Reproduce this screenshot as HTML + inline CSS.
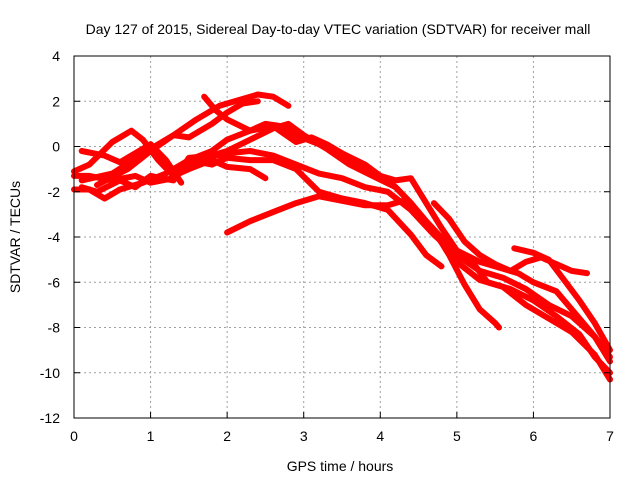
<!DOCTYPE html>
<html><head><meta charset="utf-8"><style>
body{margin:0;background:#fff}
svg text{font-family:"Liberation Sans",sans-serif;font-size:14px;fill:#000}
</style></head><body>
<svg id="chart" width="640" height="480" xmlns="http://www.w3.org/2000/svg">
<text x="338" y="34" text-anchor="middle">Day 127 of 2015, Sidereal Day-to-day VTEC variation (SDTVAR) for receiver mall</text>
<text x="340" y="471" text-anchor="middle">GPS time / hours</text>
<text transform="translate(20,237) rotate(-90)" text-anchor="middle">SDTVAR / TECUs</text>
<g id="grid"></g>
<g id="series"></g>
<rect x="74" y="56" width="536" height="362" fill="none" stroke="#000" stroke-width="1"/>
<g id="ticks"></g>
</svg>
<script>
const xTicks=[0,1,2,3,4,5,6,7];
const yTicks=[4,2,0,-2,-4,-6,-8,-10,-12];
const trackA=[[0.1,-1.5],[0.5,-1.2],[1.0,-0.1],[1.3,0.5],[1.6,1.2],[1.9,1.8],[2.1,2.0],[2.4,2.3],[2.6,2.2],[2.8,1.8]];
const trackB=[[0.3,-1.7],[0.7,-1.0],[1.0,-0.2],[1.3,0.5],[1.5,0.4],[1.8,1.0],[2.0,1.5],[2.2,1.9],[2.4,2.0]];
const trackC=[[1.7,2.2],[1.85,1.6],[2.0,1.2],[2.3,0.7],[2.6,0.9],[2.9,0.2],[3.1,0.4],[3.3,0.1],[3.6,-0.5],[3.9,-1.2],[4.2,-1.5],[4.4,-1.4],[4.6,-2.5],[4.8,-3.6],[5.0,-4.6],[5.3,-5.1],[5.5,-5.3],[5.8,-5.6],[6.0,-6.0],[6.3,-6.4],[6.6,-7.6],[6.8,-8.4],[7.0,-9.3]];
const trackD=[[0.0,-1.3],[0.2,-1.3],[0.5,-1.5],[0.8,-1.3],[1.0,-1.6],[1.3,-1.4],[1.6,-0.6],[2.0,-0.3],[2.3,-0.2],[2.6,-0.4],[2.9,-0.8],[3.2,-1.2],[3.5,-1.4],[3.8,-1.8],[4.1,-2.0],[4.4,-2.8],[4.7,-3.9],[5.0,-4.8],[5.3,-5.5],[5.6,-5.8],[5.9,-6.3],[6.2,-7.0],[6.5,-7.5],[6.8,-8.4],[7.0,-9.5]];
const trackE=[[0.1,-1.8],[0.3,-2.0],[0.6,-1.5],[0.8,-1.8],[1.0,-1.3],[1.3,-1.5],[1.5,-0.5],[1.8,-0.4],[2.0,-0.2],[2.3,0.3],[2.6,0.8],[2.8,1.0],[3.0,0.5],[3.3,-0.1],[3.6,-0.8],[3.9,-1.3],[4.2,-1.8],[4.4,-2.5],[4.6,-3.3],[4.9,-4.4],[5.2,-5.1],[5.4,-6.0],[5.7,-6.3],[6.0,-6.8],[6.3,-7.5],[6.6,-8.3],[6.8,-9.3],[7.0,-10.0]];
const trackF=[[0.0,-1.9],[0.2,-1.9],[0.4,-2.3],[0.6,-1.9],[0.9,-1.6],[1.2,-1.2],[1.5,-0.6],[1.8,-0.2],[2.0,0.3],[2.3,0.7],[2.5,1.0],[2.7,0.9],[2.9,0.5],[3.2,0.1],[3.5,-0.3],[3.8,-0.8],[4.0,-1.3],[4.2,-1.8],[4.4,-2.5],[4.7,-3.8],[5.0,-5.1],[5.3,-5.9],[5.6,-6.2],[5.9,-7.0],[6.2,-7.6],[6.5,-8.2],[6.8,-9.2],[7.0,-10.3]];
const trackG=[[0.0,-1.1],[0.2,-0.8],[0.5,0.2],[0.75,0.7],[0.9,0.3],[1.1,-0.6],[1.3,-1.3],[1.5,-1.0],[1.8,-0.6],[2.0,-0.9],[2.3,-1.0],[2.5,-1.4]];
const trackH=[[0.1,-0.2],[0.4,-0.4],[0.6,-0.7],[1.0,0.1],[1.2,-0.6],[1.4,-1.6]];
const trackI=[[2.0,-3.8],[2.3,-3.3],[2.6,-2.9],[2.9,-2.5],[3.2,-2.2],[3.5,-2.4],[3.8,-2.6],[4.1,-2.6],[4.3,-2.4],[4.5,-3.0],[4.7,-3.7],[4.9,-4.8],[5.1,-6.1],[5.3,-7.2],[5.5,-7.8],[5.55,-8.0]];
const trackJ=[[1.5,-0.6],[1.8,-0.8],[2.0,-0.5],[2.3,-0.6],[2.6,-0.6],[2.9,-1.0],[3.2,-2.0],[3.5,-2.3],[3.8,-2.5],[4.1,-2.8],[4.4,-3.9],[4.6,-4.8],[4.8,-5.3]];
const trackK=[[4.7,-2.5],[4.9,-3.2],[5.1,-4.2],[5.3,-4.8],[5.5,-5.2],[5.7,-5.5],[5.9,-5.1],[6.1,-4.9],[6.3,-5.2],[6.5,-5.5],[6.7,-5.6]];
const trackL=[[5.75,-4.5],[6.0,-4.7],[6.2,-5.0],[6.4,-5.9],[6.6,-6.8],[6.8,-7.8],[7.0,-9.0]];
const tracks=[trackA,trackB,trackC,trackD,trackE,trackF,trackG,trackH,trackI,trackJ,trackK,trackL];

const NS="http://www.w3.org/2000/svg";
const X0=74,X1=610,Y0=418,Y1=56;
function sx(h){return X0+(h-0)/(7-0)*(X1-X0);}
function sy(v){return Y0-(v-(-12))/(4-(-12))*(Y0-Y1);}
const grid=document.getElementById('grid'),ticks=document.getElementById('ticks'),series=document.getElementById('series');
function mk(tag,attrs,parent){const e=document.createElementNS(NS,tag);for(const k in attrs)e.setAttribute(k,attrs[k]);parent.appendChild(e);return e;}
xTicks.forEach(t=>{
  const x=sx(t);
  if(t>0&&t<7){const g=mk('line',{x1:x,x2:x,y1:Y1,y2:Y0,stroke:'#a0a0a0','stroke-dasharray':'2,3'},grid);
  
  }
  const tk=mk('line',{x1:x,x2:x,y1:Y0,y2:Y0-6,stroke:'#000'},ticks);
  
  
  const tx=mk('text',{x:x,y:Y0+23,'text-anchor':'middle'},ticks);tx.textContent=t;
  
  
});
yTicks.forEach(t=>{
  const y=sy(t);
  if(t<4&&t>-12){const g=mk('line',{x1:X0,x2:X1,y1:y,y2:y,stroke:'#a0a0a0','stroke-dasharray':'2,3'},grid);
  
  }
  const tk=mk('line',{x1:X0,x2:X0+6,y1:y,y2:y,stroke:'#000'},ticks);
  
  
  const tk2=mk('line',{x1:X1,x2:X1-6,y1:y,y2:y,stroke:'#000'},ticks);
  
  
  const tx=mk('text',{x:X0-14,y:y+5,'text-anchor':'end'},ticks);tx.textContent=t;
  
  
});
tracks.forEach((tr,i)=>{
  const pts=tr.map(p=>sx(p[0]).toFixed(1)+','+sy(p[1]).toFixed(1)).join(' ');
  const pl=mk('polyline',{points:pts,fill:'none',stroke:'#ff0000','stroke-width':6,'stroke-linejoin':'round','stroke-linecap':'round'},series);
  
  
});
</script>
</body></html>
